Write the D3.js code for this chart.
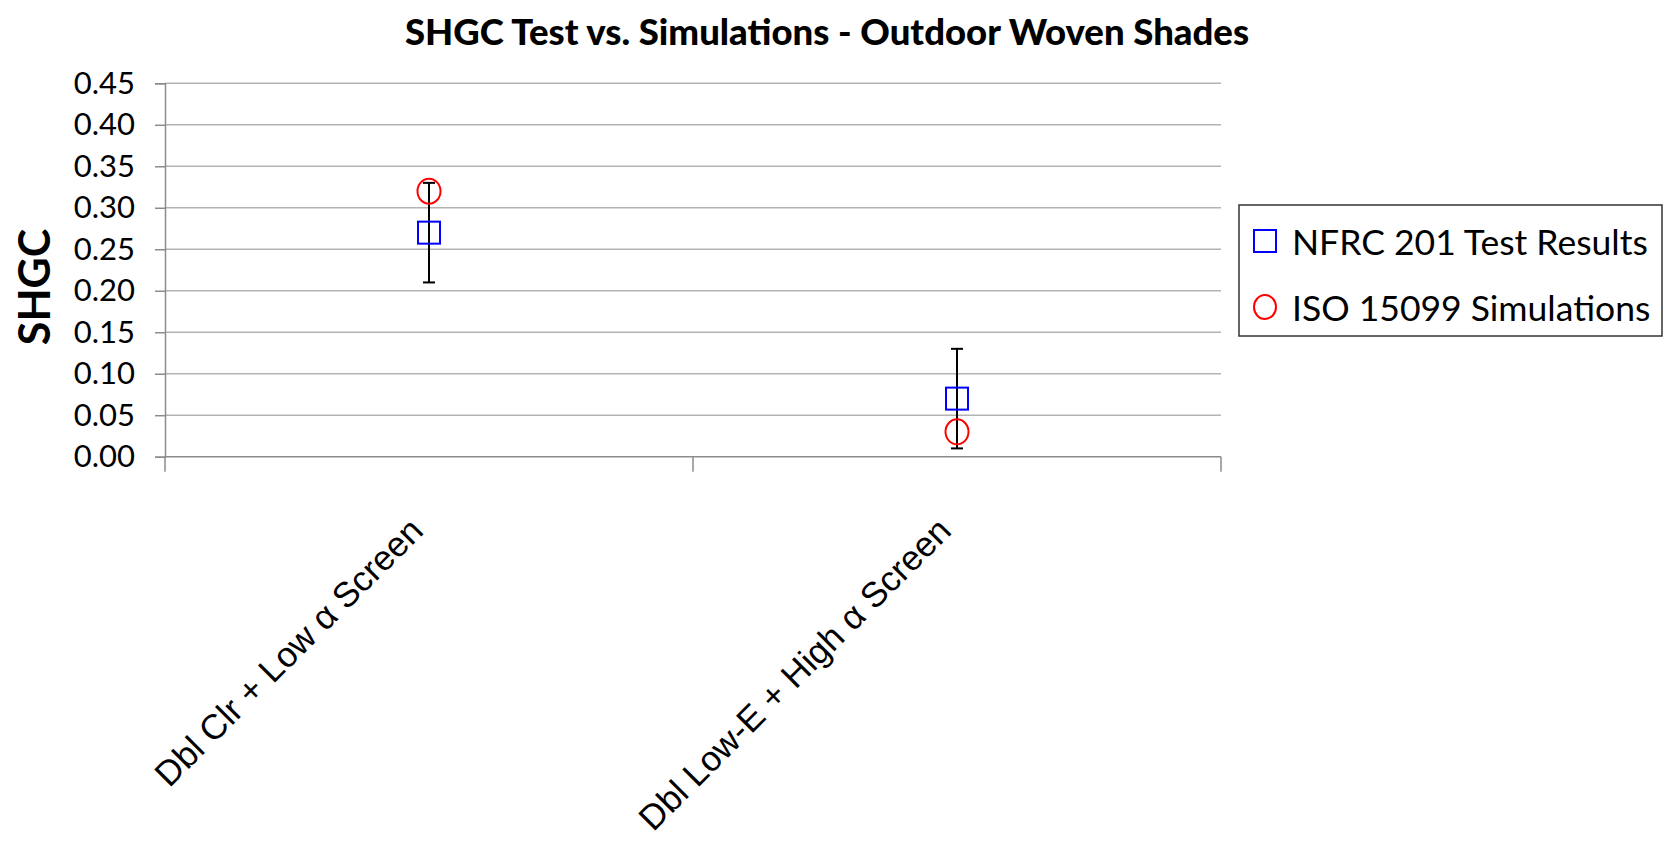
<!DOCTYPE html>
<html><head><meta charset="utf-8">
<script src="https://cdn.jsdelivr.net/npm/d3@7"></script>
<style>body{margin:0;background:#fff}svg{display:block}</style>
</head><body><svg id="c" width="1665" height="846"></svg>
<script>
const title = "SHGC Test vs. Simulations - Outdoor Woven Shades";
const yTitle = "SHGC";
const categories = ["Dbl Clr + Low α Screen", "Dbl Low-E + High α Screen"];
const seriesNames = ["NFRC 201 Test Results", "ISO 15099 Simulations"];
const nfrcValues = [0.27, 0.07];
const nfrcErrLow = [0.21, 0.01];
const nfrcErrHigh = [0.33, 0.13];
const isoValues = [0.32, 0.03];
const yTicks = [0, 0.05, 0.10, 0.15, 0.20, 0.25, 0.30, 0.35, 0.40, 0.45];

const svg = d3.select("#c");
const plot = {left: 165, right: 1221, top: 83.3, bottom: 456.7};

const y = d3.scaleLinear().domain([0, 0.45]).range([plot.bottom, plot.top]);
const x = d3.scaleBand().domain(categories).range([plot.left, plot.right]).padding(0);
const cx = c => x(c) + x.bandwidth() / 2;

// gridlines
svg.append("g").selectAll("line").data(yTicks.filter(d => d > 0)).join("line")
  .attr("x1", plot.left).attr("x2", plot.right)
  .attr("y1", d => y(d)).attr("y2", d => y(d))
  .attr("stroke", "#b3b3b3").attr("stroke-width", 1.5);

// y axis
const yAxis = svg.append("g").attr("transform", `translate(${plot.left},0)`)
  .call(d3.axisLeft(y).tickValues(yTicks).tickFormat(d3.format(".2f")).tickSize(10).tickPadding(20));
yAxis.select(".domain").attr("stroke", "#8c8c8c").attr("stroke-width", 1.5);
yAxis.selectAll(".tick line").attr("stroke", "#8c8c8c").attr("stroke-width", 1.5);
yAxis.selectAll(".tick text").attr("font-family", "Lato").attr("font-size", 31).attr("fill", "#000");

// x axis
const xAxisG = svg.append("g").attr("transform", `translate(0,${plot.bottom})`);
xAxisG.append("line").attr("x1", plot.left).attr("x2", plot.right)
  .attr("stroke", "#8c8c8c").attr("stroke-width", 1.5);
const xTickPos = [plot.left, ...categories.map(c => x(c) + x.bandwidth())];
xAxisG.selectAll("line.t").data(xTickPos).join("line").attr("class", "t")
  .attr("x1", d => d).attr("x2", d => d).attr("y1", 0).attr("y2", 15)
  .attr("stroke", "#8c8c8c").attr("stroke-width", 1.5);

// category labels
svg.append("g").selectAll("text").data(categories).join("text")
  .attr("transform", c => `translate(${cx(c) - 4},${plot.bottom + 76}) rotate(-45)`)
  .attr("text-anchor", "end")
  .attr("font-family", "Liberation Sans").attr("font-size", 35).attr("fill", "#000")
  .text(c => c);

// error bars
const eb = svg.append("g").attr("stroke", "#000").attr("stroke-width", 2);
categories.forEach((c, i) => {
  const px = cx(c);
  eb.append("line").attr("x1", px).attr("x2", px).attr("y1", y(nfrcErrLow[i])).attr("y2", y(nfrcErrHigh[i]));
  eb.append("line").attr("x1", px - 6).attr("x2", px + 6).attr("y1", y(nfrcErrLow[i])).attr("y2", y(nfrcErrLow[i]));
  eb.append("line").attr("x1", px - 6).attr("x2", px + 6).attr("y1", y(nfrcErrHigh[i])).attr("y2", y(nfrcErrHigh[i]));
});

// NFRC squares
svg.append("g").selectAll("rect").data(nfrcValues).join("rect")
  .attr("x", (d, i) => cx(categories[i]) - 11).attr("y", d => y(d) - 11)
  .attr("width", 22).attr("height", 22)
  .attr("fill", "none").attr("stroke", "#0000ff").attr("stroke-width", 2);

// ISO circles
svg.append("g").selectAll("ellipse").data(isoValues).join("ellipse")
  .attr("cx", (d, i) => cx(categories[i])).attr("cy", d => y(d))
  .attr("rx", 11.5).attr("ry", 12.5)
  .attr("fill", "none").attr("stroke", "#ff0000").attr("stroke-width", 2);

// title
svg.append("text").attr("x", 827).attr("y", 45).attr("text-anchor", "middle")
  .attr("font-family", "Lato").attr("font-weight", 900).attr("font-size", 36.5)
  .text(title);

// y title
svg.append("text").attr("transform", "translate(50,287) rotate(-90)").attr("text-anchor", "middle")
  .attr("font-family", "Lato").attr("font-weight", "bold").attr("font-size", 43)
  .text(yTitle);

// legend
const lg = svg.append("g");
lg.append("rect").attr("x", 1239).attr("y", 205).attr("width", 423).attr("height", 131)
  .attr("fill", "#fff").attr("stroke", "#333").attr("stroke-width", 1.5);
const rowY = [241, 307];
lg.append("rect").attr("x", 1254).attr("y", rowY[0] - 11).attr("width", 22).attr("height", 22)
  .attr("fill", "none").attr("stroke", "#0000ff").attr("stroke-width", 2);
lg.append("ellipse").attr("cx", 1265).attr("cy", rowY[1]).attr("rx", 11).attr("ry", 12)
  .attr("fill", "none").attr("stroke", "#ff0000").attr("stroke-width", 2);
lg.selectAll("text").data(seriesNames).join("text")
  .attr("x", 1292).attr("y", (d, i) => rowY[i] + 14)
  .attr("font-family", "Lato").attr("font-size", 35.5).attr("fill", "#000")
  .text(d => d);
</script></body></html>
